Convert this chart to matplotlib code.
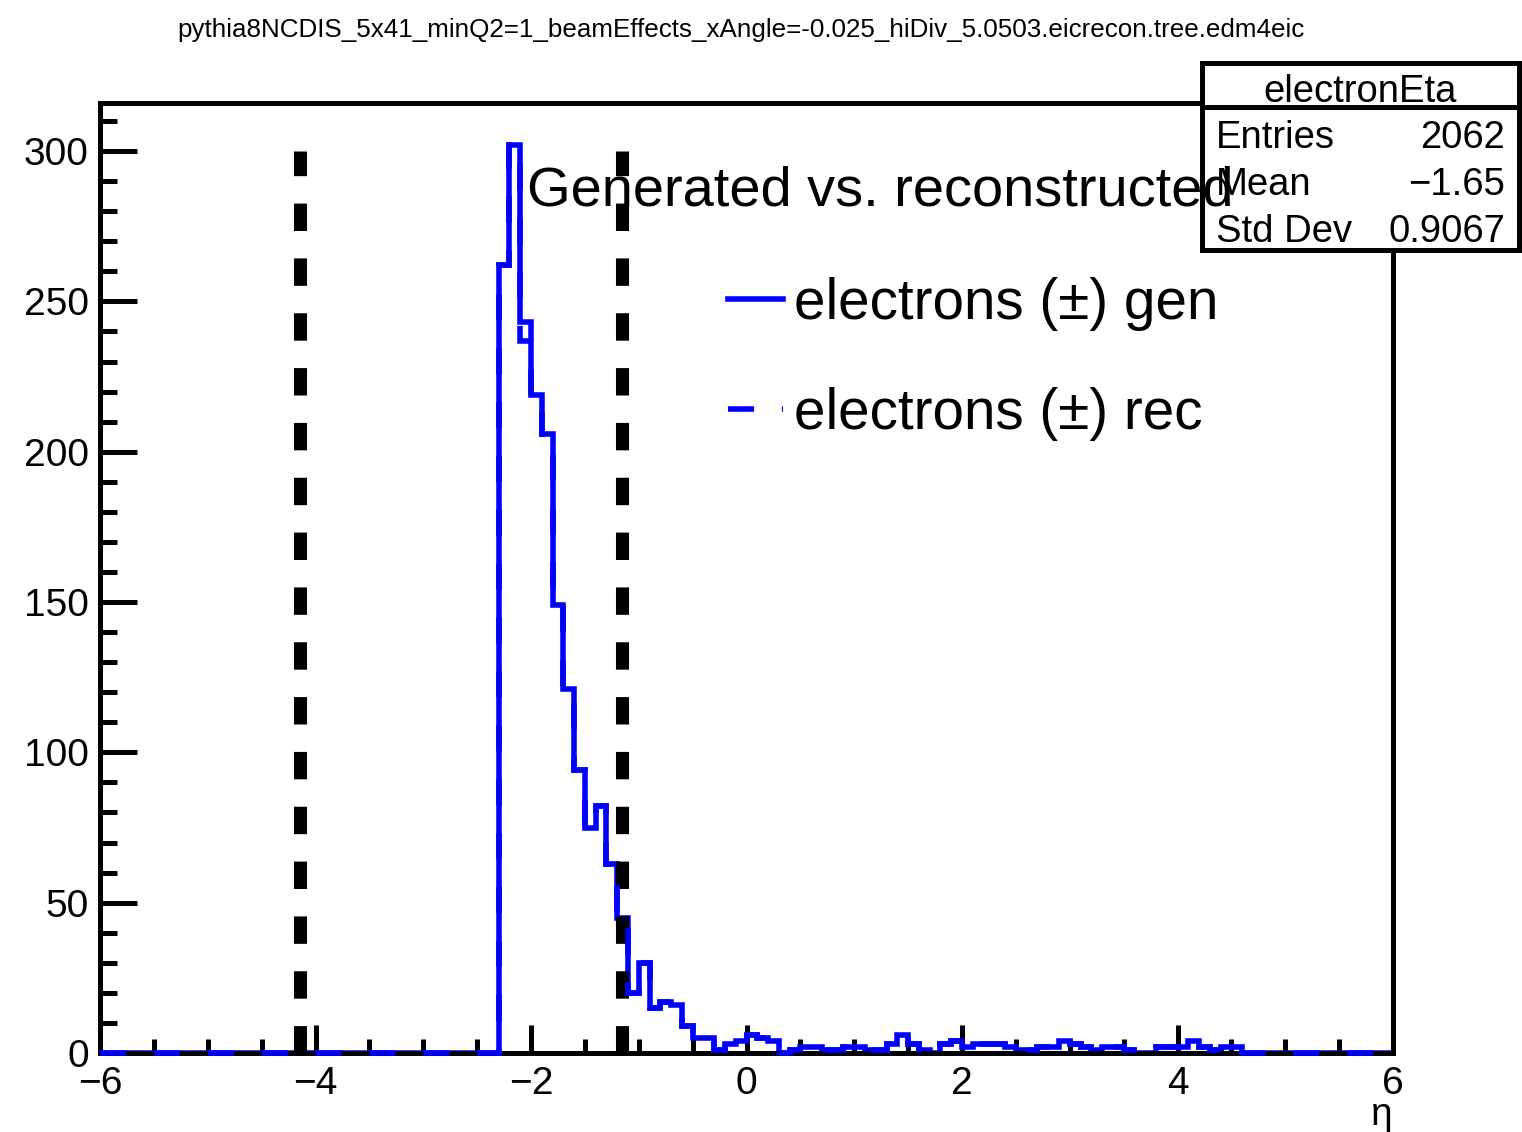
import numpy as np
import matplotlib.pyplot as plt
from matplotlib.lines import Line2D
from matplotlib.patches import Rectangle
from matplotlib.ticker import MultipleLocator

plt.rcParams['font.family'] = ['Liberation Sans', 'DejaVu Sans']

W, H = 1522, 1132

title = 'pythia8NCDIS_5x41_minQ2=1_beamEffects_xAngle=-0.025_hiDiv_5.0503.eicrecon.tree.edm4eic'
x_lo, x_hi, n_bins = -6.0, 6.0, 120
first_bin = -2.3   # lower edge of first filled bin

# bin contents from -2.3 up to 4.5 (0.1 wide bins)
gen_counts = [262, 302, 243, 219, 206, 149, 121, 94, 75, 82,
              63, 45, 20, 30, 15, 17, 16, 9, 5, 5,
              1, 3, 4, 6, 5, 4, 0, 1, 2, 2,
              1, 1, 2, 2, 1, 1, 3, 6, 3, 1,
              0, 3, 4, 2, 3, 3, 3, 2, 1, 1,
              2, 2, 4, 3, 2, 1, 2, 2, 1, 0,
              0, 2, 2, 2, 4, 2, 1, 2, 2]
rec_counts = [262, 302, 237, 219, 206, 149, 121, 94, 75, 82,
              63, 45, 20, 30, 15, 17, 16, 9, 5, 5,
              1, 3, 4, 6, 5, 4, 0, 1, 2, 2,
              1, 1, 2, 2, 1, 1, 3, 6, 3, 1,
              0, 3, 4, 2, 3, 3, 3, 2, 1, 1,
              2, 2, 4, 3, 2, 1, 2, 2, 1, 0,
              0, 2, 2, 2, 4, 2, 1, 2, 2]
acc_lines = [-4.14, -1.16]
acc_top = 300

stats_name = 'electronEta'
stat_labels = ['Entries', 'Mean', 'Std Dev']
stat_values = ['2062', '\u22121.65', '0.9067']
leg_labels = ['electrons (\u00b1) gen', 'electrons (\u00b1) rec']

edges = np.linspace(x_lo, x_hi, n_bins + 1)
i0 = int(round((first_bin - x_lo) / 0.1))
gen = np.zeros(n_bins)
gen[i0:i0 + len(gen_counts)] = gen_counts
rec = np.zeros(n_bins)
rec[i0:i0 + len(rec_counts)] = rec_counts

fig = plt.figure(figsize=(W / 100, H / 100), dpi=100)
ax = fig.add_axes([100 / W, 1 - 1053 / H, 1293 / W, 950 / H])

lw = 3.6
hlw = 4.0
ax.stairs(gen, edges, color='blue', lw=hlw, baseline=0, zorder=3)
ax.stairs(rec, edges, color='blue', lw=hlw, baseline=0, linestyle=(0, (4.7, 5.0)),
          clip_on=False, zorder=6)
ax.vlines(acc_lines, 0, acc_top, colors='black', lw=9.4, linestyles=(0, (2.1, 2.1)), zorder=4)

ax.set_xlim(x_lo, x_hi)
ax.set_ylim(0, 316)
ax.xaxis.set_major_locator(MultipleLocator(2))
ax.xaxis.set_minor_locator(MultipleLocator(0.5))
ax.yaxis.set_major_locator(MultipleLocator(50))
ax.yaxis.set_minor_locator(MultipleLocator(10))
ax.tick_params(which='both', direction='in', top=False, right=False, width=lw, labelsize=28)
ax.tick_params(axis='x', which='major', length=20, pad=9)
ax.tick_params(axis='x', which='minor', length=10)
ax.tick_params(axis='y', which='major', length=26.5, pad=8)
ax.tick_params(axis='y', which='minor', length=12)
for s in ax.spines.values():
    s.set_linewidth(lw)
    s.set_zorder(5)
ax.set_xlabel('\u03b7', loc='right', fontsize=28, labelpad=-3)

fig.text(741 / W, 1 - 37 / H, title, fontsize=18.7, ha='center', va='baseline')

# stats box
fig.add_artist(Rectangle((1202 / W, 1 - 250 / H), (1519 - 1202) / W, (250 - 63) / H,
                         transform=fig.transFigure, fc='white', ec='black', lw=lw, zorder=5))
fig.add_artist(Line2D([1202 / W, 1519 / W], [1 - 107 / H, 1 - 107 / H],
                      transform=fig.transFigure, color='black', lw=lw, zorder=6))
fig.text(1360 / W, 1 - 102 / H, stats_name, fontsize=27.5, ha='center', va='baseline', zorder=7)
for k, (lab, val) in enumerate(zip(stat_labels, stat_values)):
    yb = 1 - (148 + 47 * k) / H
    fig.text(1216 / W, yb, lab, fontsize=27.5, ha='left', va='baseline', zorder=7)
    fig.text(1505 / W, yb, val, fontsize=27.5, ha='right', va='baseline', zorder=7)

fig.text(527 / W, 1 - 205 / H, 'Generated vs. reconstructed', fontsize=40.3,
         ha='left', va='baseline', zorder=8)

handles = [Line2D([], [], color='blue', lw=hlw),
           Line2D([], [], color='blue', lw=hlw, linestyle=(0, (4.7, 5.0)))]
fig.legend(handles, leg_labels, loc='upper left', bbox_to_anchor=(728 / W, 1 - 277 / H),
           frameon=False, fontsize=40.8, handlelength=0.97, handletextpad=0.2,
           labelspacing=0.98, borderpad=0, borderaxespad=0)

fig.savefig('out.png', dpi=100)
